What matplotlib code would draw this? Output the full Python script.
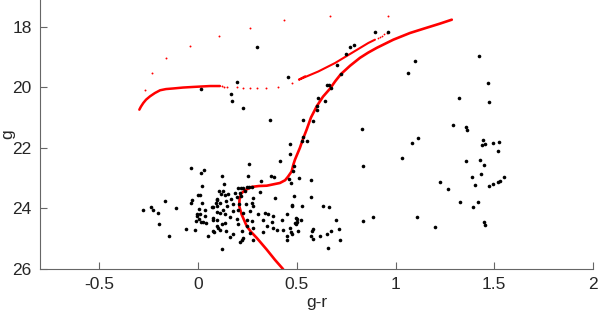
import matplotlib
matplotlib.use("Agg")
import matplotlib.pyplot as plt

plt.rcParams['font.family'] = ['Liberation Sans', 'DejaVu Sans']

# observed stars: red-giant / upper region
gr_upper = [0.297, 0.199, 0.014, 0.166, 0.174, 0.229, 0.365, 0.457, 0.533, 0.584,
            0.609, 0.601, 0.604, 0.533, 0.525, 0.550, 0.466, 0.466, 0.896, 0.964,
            0.770, 0.788, 0.749, 0.705, 0.723, 0.652, 0.665, 0.672, 0.645, 0.832]
g_upper = [18.68, 19.84, 20.06, 20.22, 20.46, 20.68, 21.09, 19.67, 21.07, 21.10,
           20.35, 20.61, 20.76, 21.64, 21.78, 21.78, 21.89, 22.22, 18.16, 18.16,
           18.67, 18.62, 18.90, 19.28, 19.57, 19.91, 19.94, 20.04, 20.44, 21.37]

# observed stars: red field stars
gr_field = [1.099, 1.062, 1.424, 1.470, 1.322, 1.473, 1.290, 1.357, 1.361, 1.112,
            1.082, 1.445, 1.436, 1.455, 1.492, 1.526, 1.521, 1.034, 1.358, 1.428,
            1.450, 1.387, 1.431, 1.549, 1.225, 1.264, 1.404, 1.475, 1.492, 1.521,
            1.528, 1.328, 1.419, 1.392, 1.109, 1.202, 1.450, 1.453]
g_field = [19.15, 19.54, 18.97, 19.87, 20.35, 20.48, 21.24, 21.32, 21.42, 21.67,
           21.85, 21.75, 21.92, 21.86, 21.85, 21.80, 22.09, 22.35, 22.43, 22.41,
           22.58, 22.97, 22.88, 22.95, 23.13, 23.37, 23.24, 23.25, 23.19, 23.12,
           23.08, 23.78, 23.78, 23.95, 24.28, 24.62, 24.45, 24.56]

# observed stars: right side of the turnoff region
gr_right = [0.834, 0.486, 0.483, 0.513, 0.574, 0.471, 0.486, 0.571, 0.474, 0.525,
            0.634, 0.662, 0.495, 0.522, 0.490, 0.503, 0.498, 0.700, 0.834, 0.888,
            0.472, 0.506, 0.582, 0.577, 0.672, 0.712, 0.655, 0.574, 0.584, 0.616,
            0.717, 0.657]
g_right = [22.61, 22.59, 22.78, 22.99, 23.05, 23.16, 23.60, 23.62, 23.91, 23.93,
           23.93, 23.95, 24.33, 24.37, 24.48, 24.46, 24.50, 24.37, 24.40, 24.29,
           24.79, 24.76, 24.68, 24.76, 24.74, 24.67, 24.84, 24.92, 25.00, 24.92,
           25.03, 25.32]

# observed stars: blue side of the turnoff
gr_blue = [-0.037, 0.015, 0.030, 0.019, -0.002, 0.009, -0.167, -0.029, -0.035, 0.022,
           0.098, -0.278, -0.240, -0.226, -0.201, -0.111, 0.007, 0.034, 0.071, 0.098,
           0.098, -0.004, 0.010, -0.007, 0.037, 0.007, -0.009, 0.017, 0.027, 0.041,
           0.077, -0.199, -0.015, -0.062, 0.103, 0.079, -0.145, 0.051]
g_blue = [22.68, 22.84, 22.73, 23.27, 23.55, 23.55, 23.77, 23.71, 23.81, 23.82,
          23.73, 24.04, 23.96, 24.06, 24.15, 24.00, 24.02, 24.05, 23.96, 23.91,
          24.11, 24.17, 24.17, 24.26, 24.26, 24.34, 24.40, 24.44, 24.46, 24.47,
          24.39, 24.51, 24.71, 24.67, 24.64, 24.77, 24.92, 24.91]

# observed stars: core of the turnoff
gr_core = [0.258, 0.415, 0.122, 0.252, 0.370, 0.385, 0.461, 0.321, 0.132, 0.203,
           0.216, 0.229, 0.247, 0.260, 0.272, 0.108, 0.125, 0.187, 0.213, 0.236,
           0.314, 0.116, 0.137, 0.153, 0.098, 0.167, 0.196, 0.216, 0.280, 0.390,
           0.091, 0.111, 0.142, 0.145, 0.179, 0.209, 0.243, 0.272, 0.280, 0.474,
           0.074, 0.128, 0.111, 0.137, 0.179, 0.204, 0.229, 0.263, 0.305, 0.339,
           0.356, 0.381, 0.449, 0.077, 0.095, 0.162, 0.196, 0.247, 0.272, 0.331,
           0.373, 0.424, 0.500, 0.120, 0.137, 0.095, 0.204, 0.247, 0.280, 0.348,
           0.381, 0.077, 0.111, 0.142, 0.179, 0.221, 0.263, 0.331, 0.398, 0.429,
           0.466, 0.162, 0.221, 0.229, 0.280, 0.449, 0.474, 0.213, 0.449, 0.120]
g_core = [22.54, 22.42, 22.92, 22.94, 22.94, 22.96, 23.02, 23.11, 23.21, 23.32,
          23.32, 23.32, 23.29, 23.29, 23.29, 23.43, 23.43, 23.49, 23.49, 23.42,
          23.45, 23.54, 23.57, 23.54, 23.69, 23.69, 23.62, 23.60, 23.65, 23.65,
          23.82, 23.82, 23.77, 23.93, 23.87, 23.84, 23.87, 23.82, 23.93, 23.90,
          23.95, 24.04, 24.15, 24.18, 24.09, 24.04, 24.15, 24.09, 24.20, 24.15,
          24.17, 24.26, 24.20, 24.31, 24.37, 24.28, 24.35, 24.37, 24.43, 24.37,
          24.46, 24.39, 24.35, 24.53, 24.48, 24.59, 24.53, 24.59, 24.64, 24.59,
          24.64, 24.75, 24.70, 24.73, 24.86, 24.75, 24.81, 24.79, 24.72, 24.70,
          24.64, 24.94, 25.03, 24.97, 25.03, 24.92, 24.86, 25.12, 25.05, 25.34]

# isochrone: main sequence, subgiant and red giant branch
iso_gr = [0.470, 0.429, 0.390, 0.348, 0.297, 0.268, 0.247, 0.221, 0.209, 0.210,
          0.218, 0.238, 0.272, 0.309, 0.348, 0.415, 0.441, 0.456, 0.474, 0.483,
          0.491, 0.516, 0.532, 0.550, 0.572, 0.601, 0.633, 0.668, 0.695, 0.723,
          0.770, 0.820, 0.861, 0.905, 0.989, 1.073, 1.141, 1.225, 1.285]
iso_g = [26.40, 25.99, 25.70, 25.36, 24.97, 24.77, 24.59, 24.20, 23.93, 23.71,
         23.51, 23.40, 23.29, 23.26, 23.25, 23.16, 23.07, 22.95, 22.78, 22.55,
         22.39, 22.00, 21.70, 21.40, 21.00, 20.63, 20.31, 20.05, 19.80, 19.57,
         19.29, 19.03, 18.86, 18.70, 18.43, 18.21, 18.07, 17.90, 17.77]

# isochrone: horizontal branch (dense part)
hb_gr = [-0.297, -0.289, -0.277, -0.263, -0.243, -0.218, -0.192, -0.162, -0.125,
         -0.076, -0.024, 0.061, 0.111]
hb_g = [20.74, 20.64, 20.52, 20.41, 20.30, 20.19, 20.10, 20.06, 20.04,
        20.01, 19.99, 19.96, 19.96]

# isochrone: horizontal branch (sparse part)
hbs_gr = [0.120, 0.130, 0.145, 0.196, 0.229, 0.263, 0.300, 0.344, 0.407, 0.474]
hbs_g = [19.97, 19.98, 19.99, 20.00, 20.01, 20.03, 20.03, 20.03, 19.99, 19.86]

# isochrone: asymptotic giant branch
agb_gr = [0.542, 0.511, 0.609, 0.694, 0.778, 0.862, 0.896]
agb_g = [19.64, 19.75, 19.48, 19.20, 18.87, 18.54, 18.43]
agbs_gr = [0.910, 0.920, 0.930, 0.943, 0.955]
agbs_g = [18.38, 18.34, 18.30, 18.25, 18.21]

# isochrone: sparse post-HB points
dot_gr = [-0.270, -0.231, -0.162, -0.041, 0.108, 0.263, 0.437, 0.668, 0.964]
dot_g = [20.09, 19.52, 19.05, 18.65, 18.32, 18.03, 17.79, 17.64, 17.64]

fig = plt.figure(figsize=(5.98, 3.18), dpi=100)
ax = fig.add_axes([40 / 598, 49 / 318, 553 / 598, 269 / 318])

ax.plot(iso_gr, iso_g, color='red', lw=1.9, solid_capstyle='round',
        solid_joinstyle='round')
ax.plot(hb_gr, hb_g, color='red', lw=1.8, solid_capstyle='round',
        solid_joinstyle='round')
ax.plot(hbs_gr, hbs_g, 'o', color='red', ms=1.4, mew=0)
ax.plot(agb_gr, agb_g, color='red', lw=1.5, solid_capstyle='round',
        solid_joinstyle='round')
ax.plot(agbs_gr, agbs_g, 'o', color='red', ms=1.3, mew=0)
ax.plot(dot_gr, dot_g, 'o', color='red', ms=1.4, mew=0)

for gx, gy in [(gr_upper, g_upper), (gr_field, g_field), (gr_right, g_right),
               (gr_blue, g_blue), (gr_core, g_core)]:
    ax.plot(gx, gy, 'o', color='black', ms=2.6, mew=0)

ax.set_xlim(-0.8, 2.0)
ax.set_ylim(26, 17.12)
ax.set_xticks([-0.5, 0, 0.5, 1, 1.5, 2])
ax.set_xticklabels(['-0.5', '0', '0.5', '1', '1.5', '2'])
ax.set_yticks([18, 20, 22, 24, 26])

for s in ['top', 'right']:
    ax.spines[s].set_visible(False)
for s in ['left', 'bottom']:
    ax.spines[s].set_color('#666666')
    ax.spines[s].set_linewidth(0.8)
ax.tick_params(direction='in', length=5, width=0.8, color='#666666',
               labelcolor='#262626', labelsize=12.5, pad=6)

ax.set_xlabel('g-r', fontsize=12.5, color='#262626', labelpad=2)
ax.set_ylabel('g', fontsize=12.5, color='#262626')
ax.yaxis.set_label_coords(-0.044, 0.5)

fig.savefig('out.png', dpi=100)
